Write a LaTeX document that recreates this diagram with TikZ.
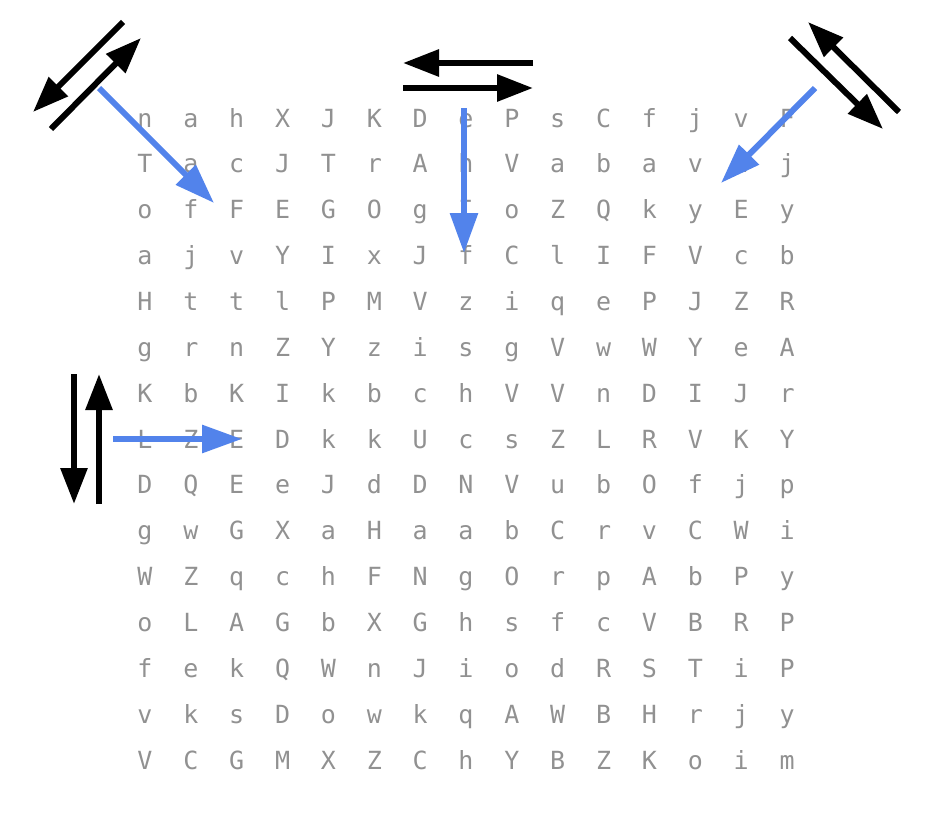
\documentclass[tikz,border=0pt]{standalone}
\usepackage{fontspec}
\usepackage{tikz}
\usetikzlibrary{arrows.meta,positioning}
\newfontfamily\gridfont{DejaVu Sans Mono}
\definecolor{lettergray}{RGB}{145,145,145}
\definecolor{pathblue}{RGB}{82,131,235}

\begin{document}
\begin{tikzpicture}[x=1pt,y=-1pt,
    letter/.style={anchor=base,inner sep=0pt,text=lettergray,font=\gridfont\fontsize{25}{25}\selectfont},
    dirarrow/.style={line width=6pt,-{Triangle[length=36pt,width=26pt]}},
    walkarrow/.style={line width=6pt,color=pathblue,-{Triangle[length=40pt,width=27pt]}}]
  \useasboundingbox (0,0) rectangle (932,838);
  % letter grid
  \foreach \row [count=\r] in {
      {n,a,h,X,J,K,D,e,P,s,C,f,j,v,F},
      {T,a,c,J,T,r,A,h,V,a,b,a,v,t,j},
      {o,f,F,E,G,O,g,I,o,Z,Q,k,y,E,y},
      {a,j,v,Y,I,x,J,f,C,l,I,F,V,c,b},
      {H,t,t,l,P,M,V,z,i,q,e,P,J,Z,R},
      {g,r,n,Z,Y,z,i,s,g,V,w,W,Y,e,A},
      {K,b,K,I,k,b,c,h,V,V,n,D,I,J,r},
      {L,Z,E,D,k,k,U,c,s,Z,L,R,V,K,Y},
      {D,Q,E,e,J,d,D,N,V,u,b,O,f,j,p},
      {g,w,G,X,a,H,a,a,b,C,r,v,C,W,i},
      {W,Z,q,c,h,F,N,g,O,r,p,A,b,P,y},
      {o,L,A,G,b,X,G,h,s,f,c,V,B,R,P},
      {f,e,k,Q,W,n,J,i,o,d,R,S,T,i,P},
      {v,k,s,D,o,w,k,q,A,W,B,H,r,j,y},
      {V,C,G,M,X,Z,C,h,Y,B,Z,K,o,i,m}}
    \foreach \ch [count=\c] in \row
      \node[letter] (l-\r-\c) at ({145+45.86*(\c-1)},{127+45.86*(\r-1)}) {\ch};

  % direction pairs
  \coordinate (nw_a) at (123,22);  \coordinate (nw_b) at (33,112);
  \coordinate (nw_c) at (51,129);  \coordinate (nw_d) at (141,38);
  \coordinate (n_a) at (533,63);   \coordinate (n_b) at (403,63);
  \coordinate (n_c) at (403,88);   \coordinate (n_d) at (533,88);
  \coordinate (ne_a) at (790,38);  \coordinate (ne_b) at (883,129);
  \coordinate (ne_c) at (899,112); \coordinate (ne_d) at (808,22);
  \coordinate (w_a) at (74,374);   \coordinate (w_b) at (74,504);
  \coordinate (w_c) at (99,504);   \coordinate (w_d) at (99,374);
  \path[dirarrow]
    (nw_a) edge (nw_b)  (nw_c) edge (nw_d)
    (n_a) edge (n_b)    (n_c) edge (n_d)
    (ne_a) edge (ne_b)  (ne_c) edge (ne_d)
    (w_a) edge (w_b)    (w_c) edge (w_d);

  % walking arrows
  \coordinate (nw_s) at (99,88);   \coordinate (nw_t) at (214,203);
  \coordinate (n_s) at (464,108);  \coordinate (n_t) at (464,253);
  \coordinate (ne_s) at (815,88);  \coordinate (ne_t) at (721,183);
  \coordinate (w_s) at (113,439);  \coordinate (w_t) at (242,439);
  \path[walkarrow]
    (nw_s) edge (nw_t)
    (n_s) edge (n_t)
    (ne_s) edge (ne_t)
    (w_s) edge (w_t);
\end{tikzpicture}
\end{document}
